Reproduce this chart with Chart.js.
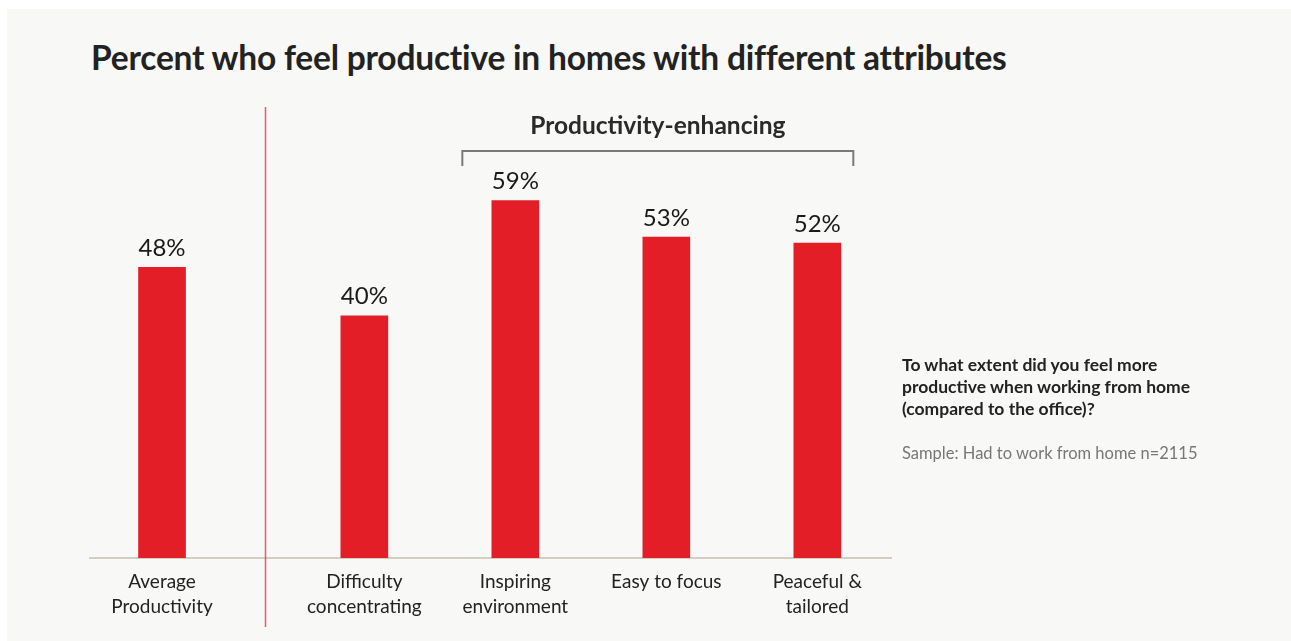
<!DOCTYPE html>
<html>
<head>
<meta charset="utf-8">
<script src="https://cdn.jsdelivr.net/npm/chart.js@4/dist/chart.umd.min.js"></script>
<style>
  body { margin: 0; background: #fff; width: 1291px; height: 641px; overflow: hidden; font-family: "Lato", "Noto Sans", sans-serif; }
  #panel { position: absolute; left: 7px; top: 9px; width: 1284px; height: 632px; background: #f8f8f6; }
  #title { position: absolute; left: 91px; top: 37px; margin: 0; font-size: 33.5px; font-weight: 700; color: #222; letter-spacing: -0.2px; }
  #chart { position: absolute; left: 0; top: 0; }
  #note { position: absolute; left: 902px; top: 354px; font-size: 17.5px; line-height: 22px; color: #222; }
  #note b { display: block; }
  #note .sample { margin-top: 22px; font-size: 16.5px; color: #777; }
</style>
</head>
<body>
<div id="panel"></div>
<h1 id="title">Percent who feel productive in homes with different attributes</h1>
<canvas id="chart" width="1291" height="641"></canvas>
<div id="note">
  <b>To what extent did you feel more<br>productive when working from home<br>(compared to the office)?</b>
  <div class="sample">Sample: Had to work from home n=2115</div>
</div>
<script>
let categories = [
    ['Average', 'Productivity'],
    ['Difficulty', 'concentrating'],
    ['Inspiring', 'environment'],
    ['Easy to focus'],
    ['Peaceful &', 'tailored']
];
let values = [48, 40, 59, 53, 52];

// where each bar sits on the x axis (the first one stands apart)
let slots = [0, 1.34, 2.34, 3.34, 4.34];
let divider = 0.682;
let groupLabel = 'Productivity-enhancing';
let groupFirst = 2, groupLast = 4;

let red = '#e41e26';

// value above each bar
let valueLabels = {
    id: 'valueLabels',
    afterDatasetsDraw(chart) {
        let ctx = chart.ctx;
        ctx.save();
        ctx.font = '24px Lato, "Noto Sans", sans-serif';
        ctx.fillStyle = '#1a1a1a';
        ctx.textAlign = 'center';
        ctx.textBaseline = 'bottom';
        chart.getDatasetMeta(0).data.forEach(function (bar, i) {
            ctx.fillText(values[i] + '%', bar.x, bar.y - 7);
        });
        ctx.restore();
    }
};

// red separator line and the bracket over the group
let extras = {
    id: 'extras',
    afterDraw(chart) {
        let ctx = chart.ctx;
        let x = chart.scales.x;
        ctx.save();

        let sx = Math.round(x.getPixelForValue(divider)) + 0.5;
        ctx.strokeStyle = 'rgba(222, 40, 56, 0.75)';
        ctx.lineWidth = 1.5;
        ctx.beginPath();
        ctx.moveTo(sx, 107);
        ctx.lineTo(sx, 627);
        ctx.stroke();

        let left = x.getPixelForValue(slots[groupFirst]) - 53;
        let right = x.getPixelForValue(slots[groupLast]) + 36;
        ctx.strokeStyle = '#7a7a7a';
        ctx.lineWidth = 2;
        ctx.beginPath();
        ctx.moveTo(left, 166);
        ctx.lineTo(left, 151);
        ctx.lineTo(right, 151);
        ctx.lineTo(right, 166);
        ctx.stroke();

        ctx.font = 'bold 24.5px Lato, "Noto Sans", sans-serif';
        ctx.fillStyle = '#2a2a2a';
        ctx.textAlign = 'center';
        ctx.textBaseline = 'middle';
        ctx.fillText(groupLabel, (left + right) / 2, 126);
        ctx.restore();
    }
};

let chart = new Chart(document.getElementById('chart'), {
    type: 'bar',
    data: {
        datasets: [{
            data: values.map(function (v, i) { return { x: slots[i], y: v }; }),
            backgroundColor: red,
            barThickness: 47
        }]
    },
    options: {
        responsive: false,
        animation: false,
        layout: { padding: { left: 90, right: 400, top: 134, bottom: 0 } },
        plugins: { legend: { display: false }, tooltip: { enabled: false } },
        scales: {
            x: {
                type: 'linear',
                offset: false,
                min: -0.477,
                max: 4.828,
                afterBuildTicks: function (axis) {
                    axis.ticks = slots.map(function (s) { return { value: s }; });
                },
                afterFit: function (axis) { axis.height = 83; },
                grid: { display: false, drawTicks: false, offset: false },
                border: { display: true, color: '#d3cebf', width: 2 },
                ticks: {
                    autoSkip: false,
                    maxRotation: 0,
                    padding: 12,
                    color: '#222',
                    font: { family: 'Lato, "Noto Sans", sans-serif', size: 19, lineHeight: 1.3 },
                    callback: function (value, index) { return categories[index]; }
                }
            },
            y: {
                display: false,
                min: 0,
                max: 70
            }
        }
    },
    plugins: [valueLabels, extras]
});
</script>
</body>
</html>
